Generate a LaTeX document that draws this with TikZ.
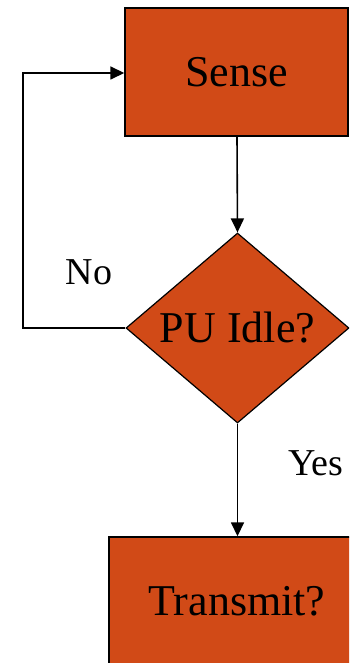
\documentclass[tikz,border=0pt]{standalone}
\usepackage{fontspec}
\setmainfont{Liberation Serif}
\usetikzlibrary{shapes.geometric,arrows.meta}
\definecolor{boxfill}{RGB}{209,74,23}
\tikzset{
  stepbox/.style={draw=black, line width=1.4pt, fill=boxfill, rectangle,
    minimum width=223pt, minimum height=128pt, inner sep=0pt, font=\fontsize{44}{48}\selectfont},
  decision/.style={draw=black, line width=1.2pt, fill=boxfill, diamond,
    minimum width=223pt, minimum height=190pt, inner sep=0pt, font=\fontsize{44}{48}\selectfont},
  flow/.style={line width=1.6pt, -{Triangle[length=14pt,width=13pt]}},
  edgelabel/.style={font=\fontsize{38}{42}\selectfont, anchor=base, inner sep=0pt}
}
\begin{document}
\begin{tikzpicture}[x=1pt, y=-1pt]
  \useasboundingbox (0,0) rectangle (349,663);
  \clip (0,0) rectangle (349,663);
  \fill[white] (0,0) rectangle (349,663);
  % process steps
  \node[stepbox] (sense) at (236.5,72) {Sense};
  \node[decision] (idle) at (237.5,328) {PU Idle?};
  \node[stepbox, minimum width=256pt, minimum height=128pt] (tx) at (237,601) {Transmit?};
  % loop-back corners
  \coordinate (lb) at (23,328);
  \coordinate (lt) at (23,73);
  % connectors
  \draw[flow] (sense.south -| 237,0) -- (idle.north);
  \draw[flow] (idle.south) -- (idle.south |- tx.north);
  \draw[flow] (idle.west) -- (lb) -- (lt) -- (lt -| sense.west);
  % branch labels
  \node[edgelabel] (no) at (89,284) {No};
  \node[edgelabel] (yes) at (316,475) {Yes};
\end{tikzpicture}
\end{document}
